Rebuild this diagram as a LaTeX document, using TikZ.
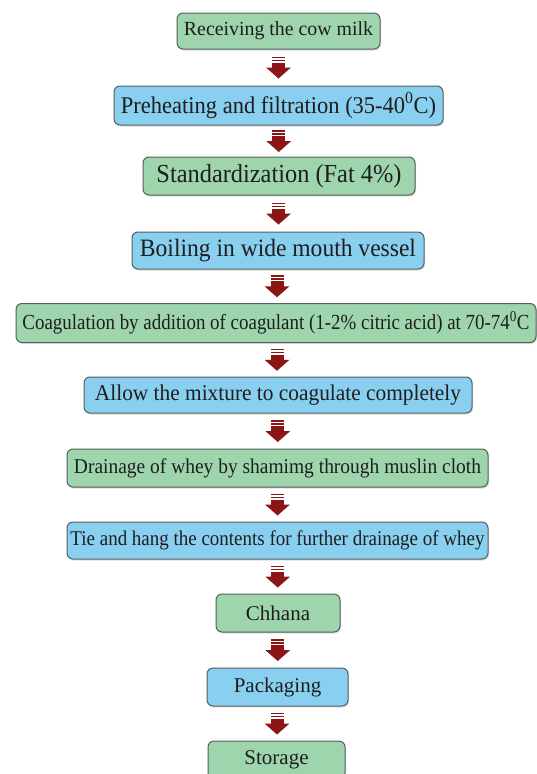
\documentclass[tikz,border=0pt]{standalone}
\usepackage{fontspec}
\setmainfont{Liberation Serif}
\usetikzlibrary{calc,shadows}
\definecolor{boxgreen}{RGB}{158,213,173}
\definecolor{boxblue}{RGB}{137,207,240}
\definecolor{arrowred}{RGB}{140,22,22}
\definecolor{edgegray}{RGB}{85,95,95}
\definecolor{txt}{RGB}{30,30,30}
\newcommand{\boxtext}[3]{\resizebox{#1pt}{\height}{\fontsize{#2}{#2}\selectfont #3}}
\newcommand{\plaintext}[2]{{\fontsize{#1}{#1}\selectfont #2}}
\tikzset{
  stepbox/.style={draw=edgegray, line width=1pt, rounded corners=6pt, inner sep=0pt,
    text=txt, drop shadow={opacity=0.25, shadow xshift=1pt, shadow yshift=-1.5pt}},
  greenbox/.style={stepbox, fill=boxgreen},
  bluebox/.style={stepbox, fill=boxblue},
  blockarrow/.pic={
    \fill[arrowred] (-6.5,-11) rectangle (6.5,-9.3);
    \fill[arrowred] (-6.5,-8) rectangle (6.5,-6.3);
    \fill[arrowred] (-6.5,-5) rectangle (6.5,0.5);
    \fill[arrowred] (-12.5,0) -- (12.5,0) -- (0,11) -- cycle;
  }
}
\begin{document}
\begin{tikzpicture}[x=1pt,y=-1pt]
\useasboundingbox[fill=white] (0,0) rectangle (537,774);
\node[greenbox, minimum width=203pt, minimum height=36pt] (b1) at (278.5,31)
  {\boxtext{189}{20}{Receiving the cow milk}};
\node[bluebox, minimum width=329pt, minimum height=39pt] (b2) at (278.5,105.5)
  {\boxtext{315}{24}{Preheating and filtration (35-40\textsuperscript{0}C)}};
\node[greenbox, minimum width=272pt, minimum height=38pt] (b3) at (279,176)
  {\boxtext{245}{26}{Standardization (Fat 4\%)}};
\node[bluebox, minimum width=292pt, minimum height=37pt] (b4) at (278,250.5)
  {\boxtext{276}{25}{Boiling in wide mouth vessel}};
\node[greenbox, minimum width=520pt, minimum height=39pt] (b5) at (276,323)
  {\boxtext{507}{21.5}{Coagulation by addition of coagulant (1-2\% citric acid) at 70-74\textsuperscript{0}C}};
\node[bluebox, minimum width=388pt, minimum height=36pt] (b6) at (278,395)
  {\boxtext{366}{22.5}{Allow the mixture to coagulate completely}};
\node[greenbox, minimum width=421pt, minimum height=38pt] (b7) at (277.5,468)
  {\boxtext{407}{21}{Drainage of whey by shamimg through muslin cloth}};
\node[bluebox, minimum width=421pt, minimum height=37pt] (b8) at (277.5,540.5)
  {\boxtext{414}{21}{Tie and hang the contents for further drainage of whey}};
\node[greenbox, minimum width=124pt, minimum height=38pt] (b9) at (278,613)
  {\plaintext{21}{Chhana}};
\node[bluebox, minimum width=141pt, minimum height=38pt] (b10) at (277.5,687)
  {\plaintext{21}{Packaging}};
\node[greenbox, minimum width=137pt, minimum height=38pt] (b11) at (276.5,760)
  {\plaintext{21}{Storage}};
\foreach \a/\b in {b1/b2,b2/b3,b3/b4,b4/b5,b5/b6,b6/b7,b7/b8,b8/b9,b9/b10,b10/b11}{
  \pic at ($(\a.south)!0.5!(\b.north)$) {blockarrow};
}
\end{tikzpicture}
\end{document}
